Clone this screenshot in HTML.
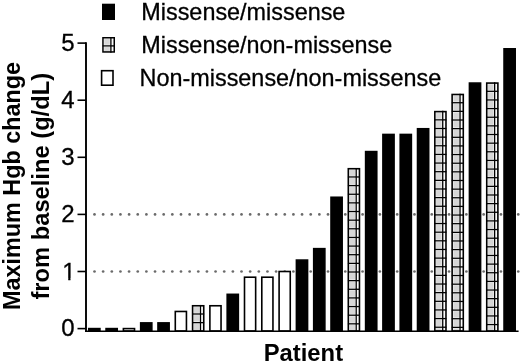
<!DOCTYPE html>
<html><head><meta charset="utf-8"><style>
html,body{margin:0;padding:0;background:#fff;}
svg{display:block;}
text{font-family:"Liberation Sans",Arial,sans-serif;fill:#000;}
.r{stroke:#000;stroke-width:0.3px;}
</style></head><body>
<svg width="520" height="363" viewBox="0 0 520 363">
<defs><clipPath id="c1"><rect x="55" y="255" width="25" height="23"/><rect x="68.25" y="255" width="2.2" height="30"/></clipPath></defs>
<circle cx="94.50" cy="271.50" r="1.35" fill="#6a6a6a"/>
<circle cx="103.15" cy="271.50" r="1.35" fill="#6a6a6a"/>
<circle cx="111.80" cy="271.50" r="1.35" fill="#6a6a6a"/>
<circle cx="120.44" cy="271.50" r="1.35" fill="#6a6a6a"/>
<circle cx="129.09" cy="271.50" r="1.35" fill="#6a6a6a"/>
<circle cx="137.74" cy="271.50" r="1.35" fill="#6a6a6a"/>
<circle cx="146.39" cy="271.50" r="1.35" fill="#6a6a6a"/>
<circle cx="155.04" cy="271.50" r="1.35" fill="#6a6a6a"/>
<circle cx="163.68" cy="271.50" r="1.35" fill="#6a6a6a"/>
<circle cx="172.33" cy="271.50" r="1.35" fill="#6a6a6a"/>
<circle cx="180.98" cy="271.50" r="1.35" fill="#6a6a6a"/>
<circle cx="189.63" cy="271.50" r="1.35" fill="#6a6a6a"/>
<circle cx="198.28" cy="271.50" r="1.35" fill="#6a6a6a"/>
<circle cx="206.92" cy="271.50" r="1.35" fill="#6a6a6a"/>
<circle cx="215.57" cy="271.50" r="1.35" fill="#6a6a6a"/>
<circle cx="224.22" cy="271.50" r="1.35" fill="#6a6a6a"/>
<circle cx="232.87" cy="271.50" r="1.35" fill="#6a6a6a"/>
<circle cx="241.52" cy="271.50" r="1.35" fill="#6a6a6a"/>
<circle cx="250.16" cy="271.50" r="1.35" fill="#6a6a6a"/>
<circle cx="258.81" cy="271.50" r="1.35" fill="#6a6a6a"/>
<circle cx="267.46" cy="271.50" r="1.35" fill="#6a6a6a"/>
<circle cx="276.11" cy="271.50" r="1.35" fill="#6a6a6a"/>
<circle cx="284.76" cy="271.50" r="1.35" fill="#6a6a6a"/>
<circle cx="293.40" cy="271.50" r="1.35" fill="#6a6a6a"/>
<circle cx="302.05" cy="271.50" r="1.35" fill="#6a6a6a"/>
<circle cx="310.70" cy="271.50" r="1.35" fill="#6a6a6a"/>
<circle cx="319.35" cy="271.50" r="1.35" fill="#6a6a6a"/>
<circle cx="328.00" cy="271.50" r="1.35" fill="#6a6a6a"/>
<circle cx="336.64" cy="271.50" r="1.35" fill="#6a6a6a"/>
<circle cx="345.29" cy="271.50" r="1.35" fill="#6a6a6a"/>
<circle cx="353.94" cy="271.50" r="1.35" fill="#6a6a6a"/>
<circle cx="362.59" cy="271.50" r="1.35" fill="#6a6a6a"/>
<circle cx="371.24" cy="271.50" r="1.35" fill="#6a6a6a"/>
<circle cx="379.88" cy="271.50" r="1.35" fill="#6a6a6a"/>
<circle cx="388.53" cy="271.50" r="1.35" fill="#6a6a6a"/>
<circle cx="397.18" cy="271.50" r="1.35" fill="#6a6a6a"/>
<circle cx="405.83" cy="271.50" r="1.35" fill="#6a6a6a"/>
<circle cx="414.48" cy="271.50" r="1.35" fill="#6a6a6a"/>
<circle cx="423.12" cy="271.50" r="1.35" fill="#6a6a6a"/>
<circle cx="431.77" cy="271.50" r="1.35" fill="#6a6a6a"/>
<circle cx="440.42" cy="271.50" r="1.35" fill="#6a6a6a"/>
<circle cx="449.07" cy="271.50" r="1.35" fill="#6a6a6a"/>
<circle cx="457.72" cy="271.50" r="1.35" fill="#6a6a6a"/>
<circle cx="466.36" cy="271.50" r="1.35" fill="#6a6a6a"/>
<circle cx="475.01" cy="271.50" r="1.35" fill="#6a6a6a"/>
<circle cx="483.66" cy="271.50" r="1.35" fill="#6a6a6a"/>
<circle cx="492.31" cy="271.50" r="1.35" fill="#6a6a6a"/>
<circle cx="500.96" cy="271.50" r="1.35" fill="#6a6a6a"/>
<circle cx="509.60" cy="271.50" r="1.35" fill="#6a6a6a"/>
<circle cx="518.25" cy="271.50" r="1.35" fill="#6a6a6a"/>
<circle cx="94.50" cy="214.40" r="1.35" fill="#6a6a6a"/>
<circle cx="103.15" cy="214.40" r="1.35" fill="#6a6a6a"/>
<circle cx="111.80" cy="214.40" r="1.35" fill="#6a6a6a"/>
<circle cx="120.44" cy="214.40" r="1.35" fill="#6a6a6a"/>
<circle cx="129.09" cy="214.40" r="1.35" fill="#6a6a6a"/>
<circle cx="137.74" cy="214.40" r="1.35" fill="#6a6a6a"/>
<circle cx="146.39" cy="214.40" r="1.35" fill="#6a6a6a"/>
<circle cx="155.04" cy="214.40" r="1.35" fill="#6a6a6a"/>
<circle cx="163.68" cy="214.40" r="1.35" fill="#6a6a6a"/>
<circle cx="172.33" cy="214.40" r="1.35" fill="#6a6a6a"/>
<circle cx="180.98" cy="214.40" r="1.35" fill="#6a6a6a"/>
<circle cx="189.63" cy="214.40" r="1.35" fill="#6a6a6a"/>
<circle cx="198.28" cy="214.40" r="1.35" fill="#6a6a6a"/>
<circle cx="206.92" cy="214.40" r="1.35" fill="#6a6a6a"/>
<circle cx="215.57" cy="214.40" r="1.35" fill="#6a6a6a"/>
<circle cx="224.22" cy="214.40" r="1.35" fill="#6a6a6a"/>
<circle cx="232.87" cy="214.40" r="1.35" fill="#6a6a6a"/>
<circle cx="241.52" cy="214.40" r="1.35" fill="#6a6a6a"/>
<circle cx="250.16" cy="214.40" r="1.35" fill="#6a6a6a"/>
<circle cx="258.81" cy="214.40" r="1.35" fill="#6a6a6a"/>
<circle cx="267.46" cy="214.40" r="1.35" fill="#6a6a6a"/>
<circle cx="276.11" cy="214.40" r="1.35" fill="#6a6a6a"/>
<circle cx="284.76" cy="214.40" r="1.35" fill="#6a6a6a"/>
<circle cx="293.40" cy="214.40" r="1.35" fill="#6a6a6a"/>
<circle cx="302.05" cy="214.40" r="1.35" fill="#6a6a6a"/>
<circle cx="310.70" cy="214.40" r="1.35" fill="#6a6a6a"/>
<circle cx="319.35" cy="214.40" r="1.35" fill="#6a6a6a"/>
<circle cx="328.00" cy="214.40" r="1.35" fill="#6a6a6a"/>
<circle cx="336.64" cy="214.40" r="1.35" fill="#6a6a6a"/>
<circle cx="345.29" cy="214.40" r="1.35" fill="#6a6a6a"/>
<circle cx="353.94" cy="214.40" r="1.35" fill="#6a6a6a"/>
<circle cx="362.59" cy="214.40" r="1.35" fill="#6a6a6a"/>
<circle cx="371.24" cy="214.40" r="1.35" fill="#6a6a6a"/>
<circle cx="379.88" cy="214.40" r="1.35" fill="#6a6a6a"/>
<circle cx="388.53" cy="214.40" r="1.35" fill="#6a6a6a"/>
<circle cx="397.18" cy="214.40" r="1.35" fill="#6a6a6a"/>
<circle cx="405.83" cy="214.40" r="1.35" fill="#6a6a6a"/>
<circle cx="414.48" cy="214.40" r="1.35" fill="#6a6a6a"/>
<circle cx="423.12" cy="214.40" r="1.35" fill="#6a6a6a"/>
<circle cx="431.77" cy="214.40" r="1.35" fill="#6a6a6a"/>
<circle cx="440.42" cy="214.40" r="1.35" fill="#6a6a6a"/>
<circle cx="449.07" cy="214.40" r="1.35" fill="#6a6a6a"/>
<circle cx="457.72" cy="214.40" r="1.35" fill="#6a6a6a"/>
<circle cx="466.36" cy="214.40" r="1.35" fill="#6a6a6a"/>
<circle cx="475.01" cy="214.40" r="1.35" fill="#6a6a6a"/>
<circle cx="483.66" cy="214.40" r="1.35" fill="#6a6a6a"/>
<circle cx="492.31" cy="214.40" r="1.35" fill="#6a6a6a"/>
<circle cx="500.96" cy="214.40" r="1.35" fill="#6a6a6a"/>
<circle cx="509.60" cy="214.40" r="1.35" fill="#6a6a6a"/>
<circle cx="518.25" cy="214.40" r="1.35" fill="#6a6a6a"/>
<rect x="88.77" y="328.60" width="11.15" height="2.40" fill="#000" stroke="#000" stroke-width="1.6"/>
<rect x="106.07" y="328.60" width="11.15" height="2.40" fill="#000" stroke="#000" stroke-width="1.6"/>
<rect x="123.38" y="328.60" width="11.15" height="2.40" fill="#fff" stroke="#000" stroke-width="1.6"/>
<rect x="140.68" y="322.89" width="11.15" height="8.11" fill="#000" stroke="#000" stroke-width="1.6"/>
<rect x="157.98" y="322.89" width="11.15" height="8.11" fill="#000" stroke="#000" stroke-width="1.6"/>
<rect x="175.29" y="311.47" width="11.15" height="19.53" fill="#fff" stroke="#000" stroke-width="1.6"/>
<rect x="191.79" y="304.96" width="12.75" height="26.04" fill="#fbfbfb"/><rect x="193.84" y="307.01" width="5.55" height="5.89" fill="#d6d6d6"/><rect x="193.84" y="315.10" width="5.55" height="6.44" fill="#d6d6d6"/><rect x="193.84" y="323.74" width="5.55" height="6.81" fill="#d6d6d6"/><line x1="200.49" y1="304.96" x2="200.49" y2="331.00" stroke="#000" stroke-width="1.3"/><line x1="192.19" y1="314.00" x2="204.14" y2="314.00" stroke="#000" stroke-width="1.3"/><line x1="192.19" y1="322.64" x2="204.14" y2="322.64" stroke="#000" stroke-width="1.3"/>
<rect x="192.59" y="305.76" width="11.15" height="25.24" fill="none" stroke="#000" stroke-width="1.6"/>
<rect x="209.89" y="305.76" width="11.15" height="25.24" fill="#fff" stroke="#000" stroke-width="1.6"/>
<rect x="227.19" y="294.34" width="11.15" height="36.66" fill="#000" stroke="#000" stroke-width="1.6"/>
<rect x="244.50" y="277.21" width="11.15" height="53.79" fill="#fff" stroke="#000" stroke-width="1.6"/>
<rect x="261.80" y="277.21" width="11.15" height="53.79" fill="#fff" stroke="#000" stroke-width="1.6"/>
<rect x="279.10" y="271.50" width="11.15" height="59.50" fill="#fff" stroke="#000" stroke-width="1.6"/>
<rect x="296.41" y="260.08" width="11.15" height="70.92" fill="#000" stroke="#000" stroke-width="1.6"/>
<rect x="313.71" y="248.66" width="11.15" height="82.34" fill="#000" stroke="#000" stroke-width="1.6"/>
<rect x="331.01" y="197.27" width="11.15" height="133.73" fill="#000" stroke="#000" stroke-width="1.6"/>
<rect x="347.51" y="167.92" width="12.75" height="163.08" fill="#fbfbfb"/><rect x="349.56" y="169.97" width="5.55" height="5.89" fill="#d6d6d6"/><rect x="349.56" y="178.06" width="5.55" height="6.44" fill="#d6d6d6"/><rect x="349.56" y="186.70" width="5.55" height="6.44" fill="#d6d6d6"/><rect x="349.56" y="195.34" width="5.55" height="6.44" fill="#d6d6d6"/><rect x="349.56" y="203.98" width="5.55" height="6.44" fill="#d6d6d6"/><rect x="349.56" y="212.62" width="5.55" height="6.44" fill="#d6d6d6"/><rect x="349.56" y="221.26" width="5.55" height="6.44" fill="#d6d6d6"/><rect x="349.56" y="229.90" width="5.55" height="6.44" fill="#d6d6d6"/><rect x="349.56" y="238.54" width="5.55" height="6.44" fill="#d6d6d6"/><rect x="349.56" y="247.18" width="5.55" height="6.44" fill="#d6d6d6"/><rect x="349.56" y="255.82" width="5.55" height="6.44" fill="#d6d6d6"/><rect x="349.56" y="264.46" width="5.55" height="6.44" fill="#d6d6d6"/><rect x="349.56" y="273.10" width="5.55" height="6.44" fill="#d6d6d6"/><rect x="349.56" y="281.74" width="5.55" height="6.44" fill="#d6d6d6"/><rect x="349.56" y="290.38" width="5.55" height="6.44" fill="#d6d6d6"/><rect x="349.56" y="299.02" width="5.55" height="6.44" fill="#d6d6d6"/><rect x="349.56" y="307.66" width="5.55" height="6.44" fill="#d6d6d6"/><rect x="349.56" y="316.30" width="5.55" height="6.44" fill="#d6d6d6"/><rect x="349.56" y="324.94" width="5.55" height="5.61" fill="#d6d6d6"/><line x1="356.21" y1="167.92" x2="356.21" y2="331.00" stroke="#000" stroke-width="1.3"/><line x1="347.91" y1="176.96" x2="359.87" y2="176.96" stroke="#000" stroke-width="1.3"/><line x1="347.91" y1="185.60" x2="359.87" y2="185.60" stroke="#000" stroke-width="1.3"/><line x1="347.91" y1="194.24" x2="359.87" y2="194.24" stroke="#000" stroke-width="1.3"/><line x1="347.91" y1="202.88" x2="359.87" y2="202.88" stroke="#000" stroke-width="1.3"/><line x1="347.91" y1="211.52" x2="359.87" y2="211.52" stroke="#000" stroke-width="1.3"/><line x1="347.91" y1="220.16" x2="359.87" y2="220.16" stroke="#000" stroke-width="1.3"/><line x1="347.91" y1="228.80" x2="359.87" y2="228.80" stroke="#000" stroke-width="1.3"/><line x1="347.91" y1="237.44" x2="359.87" y2="237.44" stroke="#000" stroke-width="1.3"/><line x1="347.91" y1="246.08" x2="359.87" y2="246.08" stroke="#000" stroke-width="1.3"/><line x1="347.91" y1="254.72" x2="359.87" y2="254.72" stroke="#000" stroke-width="1.3"/><line x1="347.91" y1="263.36" x2="359.87" y2="263.36" stroke="#000" stroke-width="1.3"/><line x1="347.91" y1="272.00" x2="359.87" y2="272.00" stroke="#000" stroke-width="1.3"/><line x1="347.91" y1="280.64" x2="359.87" y2="280.64" stroke="#000" stroke-width="1.3"/><line x1="347.91" y1="289.28" x2="359.87" y2="289.28" stroke="#000" stroke-width="1.3"/><line x1="347.91" y1="297.92" x2="359.87" y2="297.92" stroke="#000" stroke-width="1.3"/><line x1="347.91" y1="306.56" x2="359.87" y2="306.56" stroke="#000" stroke-width="1.3"/><line x1="347.91" y1="315.20" x2="359.87" y2="315.20" stroke="#000" stroke-width="1.3"/><line x1="347.91" y1="323.84" x2="359.87" y2="323.84" stroke="#000" stroke-width="1.3"/>
<rect x="348.31" y="168.72" width="11.15" height="162.28" fill="none" stroke="#000" stroke-width="1.6"/>
<rect x="365.62" y="151.59" width="11.15" height="179.41" fill="#000" stroke="#000" stroke-width="1.6"/>
<rect x="382.92" y="134.46" width="11.15" height="196.54" fill="#000" stroke="#000" stroke-width="1.6"/>
<rect x="400.22" y="134.46" width="11.15" height="196.54" fill="#000" stroke="#000" stroke-width="1.6"/>
<rect x="417.53" y="128.75" width="11.15" height="202.25" fill="#000" stroke="#000" stroke-width="1.6"/>
<rect x="434.03" y="110.82" width="12.75" height="220.18" fill="#fbfbfb"/><rect x="436.08" y="112.87" width="5.55" height="5.89" fill="#d6d6d6"/><rect x="436.08" y="120.96" width="5.55" height="6.44" fill="#d6d6d6"/><rect x="436.08" y="129.60" width="5.55" height="6.44" fill="#d6d6d6"/><rect x="436.08" y="138.24" width="5.55" height="6.44" fill="#d6d6d6"/><rect x="436.08" y="146.88" width="5.55" height="6.44" fill="#d6d6d6"/><rect x="436.08" y="155.52" width="5.55" height="6.44" fill="#d6d6d6"/><rect x="436.08" y="164.16" width="5.55" height="6.44" fill="#d6d6d6"/><rect x="436.08" y="172.80" width="5.55" height="6.44" fill="#d6d6d6"/><rect x="436.08" y="181.44" width="5.55" height="6.44" fill="#d6d6d6"/><rect x="436.08" y="190.08" width="5.55" height="6.44" fill="#d6d6d6"/><rect x="436.08" y="198.72" width="5.55" height="6.44" fill="#d6d6d6"/><rect x="436.08" y="207.36" width="5.55" height="6.44" fill="#d6d6d6"/><rect x="436.08" y="216.00" width="5.55" height="6.44" fill="#d6d6d6"/><rect x="436.08" y="224.64" width="5.55" height="6.44" fill="#d6d6d6"/><rect x="436.08" y="233.28" width="5.55" height="6.44" fill="#d6d6d6"/><rect x="436.08" y="241.92" width="5.55" height="6.44" fill="#d6d6d6"/><rect x="436.08" y="250.56" width="5.55" height="6.44" fill="#d6d6d6"/><rect x="436.08" y="259.20" width="5.55" height="6.44" fill="#d6d6d6"/><rect x="436.08" y="267.84" width="5.55" height="6.44" fill="#d6d6d6"/><rect x="436.08" y="276.48" width="5.55" height="6.44" fill="#d6d6d6"/><rect x="436.08" y="285.12" width="5.55" height="6.44" fill="#d6d6d6"/><rect x="436.08" y="293.76" width="5.55" height="6.44" fill="#d6d6d6"/><rect x="436.08" y="302.40" width="5.55" height="6.44" fill="#d6d6d6"/><rect x="436.08" y="311.04" width="5.55" height="6.44" fill="#d6d6d6"/><rect x="436.08" y="319.68" width="5.55" height="6.44" fill="#d6d6d6"/><rect x="436.08" y="328.32" width="5.55" height="2.23" fill="#d6d6d6"/><line x1="442.73" y1="110.82" x2="442.73" y2="331.00" stroke="#000" stroke-width="1.3"/><line x1="434.43" y1="119.86" x2="446.38" y2="119.86" stroke="#000" stroke-width="1.3"/><line x1="434.43" y1="128.50" x2="446.38" y2="128.50" stroke="#000" stroke-width="1.3"/><line x1="434.43" y1="137.14" x2="446.38" y2="137.14" stroke="#000" stroke-width="1.3"/><line x1="434.43" y1="145.78" x2="446.38" y2="145.78" stroke="#000" stroke-width="1.3"/><line x1="434.43" y1="154.42" x2="446.38" y2="154.42" stroke="#000" stroke-width="1.3"/><line x1="434.43" y1="163.06" x2="446.38" y2="163.06" stroke="#000" stroke-width="1.3"/><line x1="434.43" y1="171.70" x2="446.38" y2="171.70" stroke="#000" stroke-width="1.3"/><line x1="434.43" y1="180.34" x2="446.38" y2="180.34" stroke="#000" stroke-width="1.3"/><line x1="434.43" y1="188.98" x2="446.38" y2="188.98" stroke="#000" stroke-width="1.3"/><line x1="434.43" y1="197.62" x2="446.38" y2="197.62" stroke="#000" stroke-width="1.3"/><line x1="434.43" y1="206.26" x2="446.38" y2="206.26" stroke="#000" stroke-width="1.3"/><line x1="434.43" y1="214.90" x2="446.38" y2="214.90" stroke="#000" stroke-width="1.3"/><line x1="434.43" y1="223.54" x2="446.38" y2="223.54" stroke="#000" stroke-width="1.3"/><line x1="434.43" y1="232.18" x2="446.38" y2="232.18" stroke="#000" stroke-width="1.3"/><line x1="434.43" y1="240.82" x2="446.38" y2="240.82" stroke="#000" stroke-width="1.3"/><line x1="434.43" y1="249.46" x2="446.38" y2="249.46" stroke="#000" stroke-width="1.3"/><line x1="434.43" y1="258.10" x2="446.38" y2="258.10" stroke="#000" stroke-width="1.3"/><line x1="434.43" y1="266.74" x2="446.38" y2="266.74" stroke="#000" stroke-width="1.3"/><line x1="434.43" y1="275.38" x2="446.38" y2="275.38" stroke="#000" stroke-width="1.3"/><line x1="434.43" y1="284.02" x2="446.38" y2="284.02" stroke="#000" stroke-width="1.3"/><line x1="434.43" y1="292.66" x2="446.38" y2="292.66" stroke="#000" stroke-width="1.3"/><line x1="434.43" y1="301.30" x2="446.38" y2="301.30" stroke="#000" stroke-width="1.3"/><line x1="434.43" y1="309.94" x2="446.38" y2="309.94" stroke="#000" stroke-width="1.3"/><line x1="434.43" y1="318.58" x2="446.38" y2="318.58" stroke="#000" stroke-width="1.3"/><line x1="434.43" y1="327.22" x2="446.38" y2="327.22" stroke="#000" stroke-width="1.3"/>
<rect x="434.83" y="111.62" width="11.15" height="219.38" fill="none" stroke="#000" stroke-width="1.6"/>
<rect x="451.33" y="93.69" width="12.75" height="237.31" fill="#fbfbfb"/><rect x="453.38" y="95.74" width="5.55" height="5.89" fill="#d6d6d6"/><rect x="453.38" y="103.83" width="5.55" height="6.44" fill="#d6d6d6"/><rect x="453.38" y="112.47" width="5.55" height="6.44" fill="#d6d6d6"/><rect x="453.38" y="121.11" width="5.55" height="6.44" fill="#d6d6d6"/><rect x="453.38" y="129.75" width="5.55" height="6.44" fill="#d6d6d6"/><rect x="453.38" y="138.39" width="5.55" height="6.44" fill="#d6d6d6"/><rect x="453.38" y="147.03" width="5.55" height="6.44" fill="#d6d6d6"/><rect x="453.38" y="155.67" width="5.55" height="6.44" fill="#d6d6d6"/><rect x="453.38" y="164.31" width="5.55" height="6.44" fill="#d6d6d6"/><rect x="453.38" y="172.95" width="5.55" height="6.44" fill="#d6d6d6"/><rect x="453.38" y="181.59" width="5.55" height="6.44" fill="#d6d6d6"/><rect x="453.38" y="190.23" width="5.55" height="6.44" fill="#d6d6d6"/><rect x="453.38" y="198.87" width="5.55" height="6.44" fill="#d6d6d6"/><rect x="453.38" y="207.51" width="5.55" height="6.44" fill="#d6d6d6"/><rect x="453.38" y="216.15" width="5.55" height="6.44" fill="#d6d6d6"/><rect x="453.38" y="224.79" width="5.55" height="6.44" fill="#d6d6d6"/><rect x="453.38" y="233.43" width="5.55" height="6.44" fill="#d6d6d6"/><rect x="453.38" y="242.07" width="5.55" height="6.44" fill="#d6d6d6"/><rect x="453.38" y="250.71" width="5.55" height="6.44" fill="#d6d6d6"/><rect x="453.38" y="259.35" width="5.55" height="6.44" fill="#d6d6d6"/><rect x="453.38" y="267.99" width="5.55" height="6.44" fill="#d6d6d6"/><rect x="453.38" y="276.63" width="5.55" height="6.44" fill="#d6d6d6"/><rect x="453.38" y="285.27" width="5.55" height="6.44" fill="#d6d6d6"/><rect x="453.38" y="293.91" width="5.55" height="6.44" fill="#d6d6d6"/><rect x="453.38" y="302.55" width="5.55" height="6.44" fill="#d6d6d6"/><rect x="453.38" y="311.19" width="5.55" height="6.44" fill="#d6d6d6"/><rect x="453.38" y="319.83" width="5.55" height="6.44" fill="#d6d6d6"/><rect x="453.38" y="328.47" width="5.55" height="2.08" fill="#d6d6d6"/><line x1="460.03" y1="93.69" x2="460.03" y2="331.00" stroke="#000" stroke-width="1.3"/><line x1="451.73" y1="102.73" x2="463.68" y2="102.73" stroke="#000" stroke-width="1.3"/><line x1="451.73" y1="111.37" x2="463.68" y2="111.37" stroke="#000" stroke-width="1.3"/><line x1="451.73" y1="120.01" x2="463.68" y2="120.01" stroke="#000" stroke-width="1.3"/><line x1="451.73" y1="128.65" x2="463.68" y2="128.65" stroke="#000" stroke-width="1.3"/><line x1="451.73" y1="137.29" x2="463.68" y2="137.29" stroke="#000" stroke-width="1.3"/><line x1="451.73" y1="145.93" x2="463.68" y2="145.93" stroke="#000" stroke-width="1.3"/><line x1="451.73" y1="154.57" x2="463.68" y2="154.57" stroke="#000" stroke-width="1.3"/><line x1="451.73" y1="163.21" x2="463.68" y2="163.21" stroke="#000" stroke-width="1.3"/><line x1="451.73" y1="171.85" x2="463.68" y2="171.85" stroke="#000" stroke-width="1.3"/><line x1="451.73" y1="180.49" x2="463.68" y2="180.49" stroke="#000" stroke-width="1.3"/><line x1="451.73" y1="189.13" x2="463.68" y2="189.13" stroke="#000" stroke-width="1.3"/><line x1="451.73" y1="197.77" x2="463.68" y2="197.77" stroke="#000" stroke-width="1.3"/><line x1="451.73" y1="206.41" x2="463.68" y2="206.41" stroke="#000" stroke-width="1.3"/><line x1="451.73" y1="215.05" x2="463.68" y2="215.05" stroke="#000" stroke-width="1.3"/><line x1="451.73" y1="223.69" x2="463.68" y2="223.69" stroke="#000" stroke-width="1.3"/><line x1="451.73" y1="232.33" x2="463.68" y2="232.33" stroke="#000" stroke-width="1.3"/><line x1="451.73" y1="240.97" x2="463.68" y2="240.97" stroke="#000" stroke-width="1.3"/><line x1="451.73" y1="249.61" x2="463.68" y2="249.61" stroke="#000" stroke-width="1.3"/><line x1="451.73" y1="258.25" x2="463.68" y2="258.25" stroke="#000" stroke-width="1.3"/><line x1="451.73" y1="266.89" x2="463.68" y2="266.89" stroke="#000" stroke-width="1.3"/><line x1="451.73" y1="275.53" x2="463.68" y2="275.53" stroke="#000" stroke-width="1.3"/><line x1="451.73" y1="284.17" x2="463.68" y2="284.17" stroke="#000" stroke-width="1.3"/><line x1="451.73" y1="292.81" x2="463.68" y2="292.81" stroke="#000" stroke-width="1.3"/><line x1="451.73" y1="301.45" x2="463.68" y2="301.45" stroke="#000" stroke-width="1.3"/><line x1="451.73" y1="310.09" x2="463.68" y2="310.09" stroke="#000" stroke-width="1.3"/><line x1="451.73" y1="318.73" x2="463.68" y2="318.73" stroke="#000" stroke-width="1.3"/><line x1="451.73" y1="327.37" x2="463.68" y2="327.37" stroke="#000" stroke-width="1.3"/>
<rect x="452.13" y="94.49" width="11.15" height="236.51" fill="none" stroke="#000" stroke-width="1.6"/>
<rect x="469.44" y="83.07" width="11.15" height="247.93" fill="#000" stroke="#000" stroke-width="1.6"/>
<rect x="485.94" y="82.27" width="12.75" height="248.73" fill="#fbfbfb"/><rect x="487.99" y="84.32" width="5.55" height="5.89" fill="#d6d6d6"/><rect x="487.99" y="92.41" width="5.55" height="6.44" fill="#d6d6d6"/><rect x="487.99" y="101.05" width="5.55" height="6.44" fill="#d6d6d6"/><rect x="487.99" y="109.69" width="5.55" height="6.44" fill="#d6d6d6"/><rect x="487.99" y="118.33" width="5.55" height="6.44" fill="#d6d6d6"/><rect x="487.99" y="126.97" width="5.55" height="6.44" fill="#d6d6d6"/><rect x="487.99" y="135.61" width="5.55" height="6.44" fill="#d6d6d6"/><rect x="487.99" y="144.25" width="5.55" height="6.44" fill="#d6d6d6"/><rect x="487.99" y="152.89" width="5.55" height="6.44" fill="#d6d6d6"/><rect x="487.99" y="161.53" width="5.55" height="6.44" fill="#d6d6d6"/><rect x="487.99" y="170.17" width="5.55" height="6.44" fill="#d6d6d6"/><rect x="487.99" y="178.81" width="5.55" height="6.44" fill="#d6d6d6"/><rect x="487.99" y="187.45" width="5.55" height="6.44" fill="#d6d6d6"/><rect x="487.99" y="196.09" width="5.55" height="6.44" fill="#d6d6d6"/><rect x="487.99" y="204.73" width="5.55" height="6.44" fill="#d6d6d6"/><rect x="487.99" y="213.37" width="5.55" height="6.44" fill="#d6d6d6"/><rect x="487.99" y="222.01" width="5.55" height="6.44" fill="#d6d6d6"/><rect x="487.99" y="230.65" width="5.55" height="6.44" fill="#d6d6d6"/><rect x="487.99" y="239.29" width="5.55" height="6.44" fill="#d6d6d6"/><rect x="487.99" y="247.93" width="5.55" height="6.44" fill="#d6d6d6"/><rect x="487.99" y="256.57" width="5.55" height="6.44" fill="#d6d6d6"/><rect x="487.99" y="265.21" width="5.55" height="6.44" fill="#d6d6d6"/><rect x="487.99" y="273.85" width="5.55" height="6.44" fill="#d6d6d6"/><rect x="487.99" y="282.49" width="5.55" height="6.44" fill="#d6d6d6"/><rect x="487.99" y="291.13" width="5.55" height="6.44" fill="#d6d6d6"/><rect x="487.99" y="299.77" width="5.55" height="6.44" fill="#d6d6d6"/><rect x="487.99" y="308.41" width="5.55" height="6.44" fill="#d6d6d6"/><rect x="487.99" y="317.05" width="5.55" height="6.44" fill="#d6d6d6"/><rect x="487.99" y="325.69" width="5.55" height="4.86" fill="#d6d6d6"/><line x1="494.64" y1="82.27" x2="494.64" y2="331.00" stroke="#000" stroke-width="1.3"/><line x1="486.34" y1="91.31" x2="498.29" y2="91.31" stroke="#000" stroke-width="1.3"/><line x1="486.34" y1="99.95" x2="498.29" y2="99.95" stroke="#000" stroke-width="1.3"/><line x1="486.34" y1="108.59" x2="498.29" y2="108.59" stroke="#000" stroke-width="1.3"/><line x1="486.34" y1="117.23" x2="498.29" y2="117.23" stroke="#000" stroke-width="1.3"/><line x1="486.34" y1="125.87" x2="498.29" y2="125.87" stroke="#000" stroke-width="1.3"/><line x1="486.34" y1="134.51" x2="498.29" y2="134.51" stroke="#000" stroke-width="1.3"/><line x1="486.34" y1="143.15" x2="498.29" y2="143.15" stroke="#000" stroke-width="1.3"/><line x1="486.34" y1="151.79" x2="498.29" y2="151.79" stroke="#000" stroke-width="1.3"/><line x1="486.34" y1="160.43" x2="498.29" y2="160.43" stroke="#000" stroke-width="1.3"/><line x1="486.34" y1="169.07" x2="498.29" y2="169.07" stroke="#000" stroke-width="1.3"/><line x1="486.34" y1="177.71" x2="498.29" y2="177.71" stroke="#000" stroke-width="1.3"/><line x1="486.34" y1="186.35" x2="498.29" y2="186.35" stroke="#000" stroke-width="1.3"/><line x1="486.34" y1="194.99" x2="498.29" y2="194.99" stroke="#000" stroke-width="1.3"/><line x1="486.34" y1="203.63" x2="498.29" y2="203.63" stroke="#000" stroke-width="1.3"/><line x1="486.34" y1="212.27" x2="498.29" y2="212.27" stroke="#000" stroke-width="1.3"/><line x1="486.34" y1="220.91" x2="498.29" y2="220.91" stroke="#000" stroke-width="1.3"/><line x1="486.34" y1="229.55" x2="498.29" y2="229.55" stroke="#000" stroke-width="1.3"/><line x1="486.34" y1="238.19" x2="498.29" y2="238.19" stroke="#000" stroke-width="1.3"/><line x1="486.34" y1="246.83" x2="498.29" y2="246.83" stroke="#000" stroke-width="1.3"/><line x1="486.34" y1="255.47" x2="498.29" y2="255.47" stroke="#000" stroke-width="1.3"/><line x1="486.34" y1="264.11" x2="498.29" y2="264.11" stroke="#000" stroke-width="1.3"/><line x1="486.34" y1="272.75" x2="498.29" y2="272.75" stroke="#000" stroke-width="1.3"/><line x1="486.34" y1="281.39" x2="498.29" y2="281.39" stroke="#000" stroke-width="1.3"/><line x1="486.34" y1="290.03" x2="498.29" y2="290.03" stroke="#000" stroke-width="1.3"/><line x1="486.34" y1="298.67" x2="498.29" y2="298.67" stroke="#000" stroke-width="1.3"/><line x1="486.34" y1="307.31" x2="498.29" y2="307.31" stroke="#000" stroke-width="1.3"/><line x1="486.34" y1="315.95" x2="498.29" y2="315.95" stroke="#000" stroke-width="1.3"/><line x1="486.34" y1="324.59" x2="498.29" y2="324.59" stroke="#000" stroke-width="1.3"/>
<rect x="486.74" y="83.07" width="11.15" height="247.93" fill="none" stroke="#000" stroke-width="1.6"/>
<rect x="504.04" y="48.81" width="11.15" height="282.19" fill="#000" stroke="#000" stroke-width="1.6"/>
<line x1="86" y1="42.30" x2="86" y2="332" stroke="#000" stroke-width="1.9"/>
<line x1="85" y1="331.2" x2="518.6" y2="331.2" stroke="#000" stroke-width="1.6"/>
<line x1="77.5" y1="328.60" x2="86" y2="328.60" stroke="#000" stroke-width="1.6"/>
<text x="74.6" y="336" text-anchor="end" font-size="24" class="r">0</text>
<line x1="77.5" y1="271.50" x2="86" y2="271.50" stroke="#000" stroke-width="1.6"/>
<text x="75.6" y="280" text-anchor="end" font-size="24" class="r" clip-path="url(#c1)">1</text>
<line x1="77.5" y1="214.40" x2="86" y2="214.40" stroke="#000" stroke-width="1.6"/>
<text x="74.6" y="222" text-anchor="end" font-size="24" class="r">2</text>
<line x1="77.5" y1="157.30" x2="86" y2="157.30" stroke="#000" stroke-width="1.6"/>
<text x="74.6" y="165" text-anchor="end" font-size="24" class="r">3</text>
<line x1="77.5" y1="100.20" x2="86" y2="100.20" stroke="#000" stroke-width="1.6"/>
<text x="74.6" y="108" text-anchor="end" font-size="24" class="r">4</text>
<line x1="77.5" y1="43.10" x2="86" y2="43.10" stroke="#000" stroke-width="1.6"/>
<text x="74.6" y="51" text-anchor="end" font-size="24" class="r">5</text>
<rect x="102" y="3.7" width="13" height="16.3" fill="#000"/>
<rect x="102.20" y="37.00" width="12.80" height="15.70" fill="#fbfbfb"/><rect x="104.25" y="39.05" width="5.55" height="5.75" fill="#d6d6d6"/><rect x="104.25" y="47.00" width="5.55" height="5.25" fill="#d6d6d6"/><line x1="110.90" y1="37.00" x2="110.90" y2="52.70" stroke="#000" stroke-width="1.3"/><line x1="102.60" y1="45.90" x2="114.60" y2="45.90" stroke="#000" stroke-width="1.3"/>
<rect x="102.95" y="37.75" width="11.30" height="14.20" fill="none" stroke="#000" stroke-width="1.5"/>
<rect x="101.60" y="70.70" width="11.40" height="14.50" fill="#fff" stroke="#000" stroke-width="1.6"/>
<text x="141.3" y="19.8" font-size="23.4" class="r">Missense/missense</text>
<text x="141.3" y="52.8" font-size="23.4" class="r">Missense/non-missense</text>
<text x="139.6" y="85.8" font-size="23.4" class="r">Non-missense/non-missense</text>
<text x="303.4" y="360.8" font-size="23.8" font-weight="bold" text-anchor="middle">Patient</text>
<text transform="translate(20.4,185.95) rotate(-90)" font-size="23.36" font-weight="bold" text-anchor="middle">Maximum Hgb change</text>
<text transform="translate(49.1,186.25) rotate(-90)" font-size="23.72" font-weight="bold" text-anchor="middle">from baseline (g/dL)</text>
</svg>
</body></html>
